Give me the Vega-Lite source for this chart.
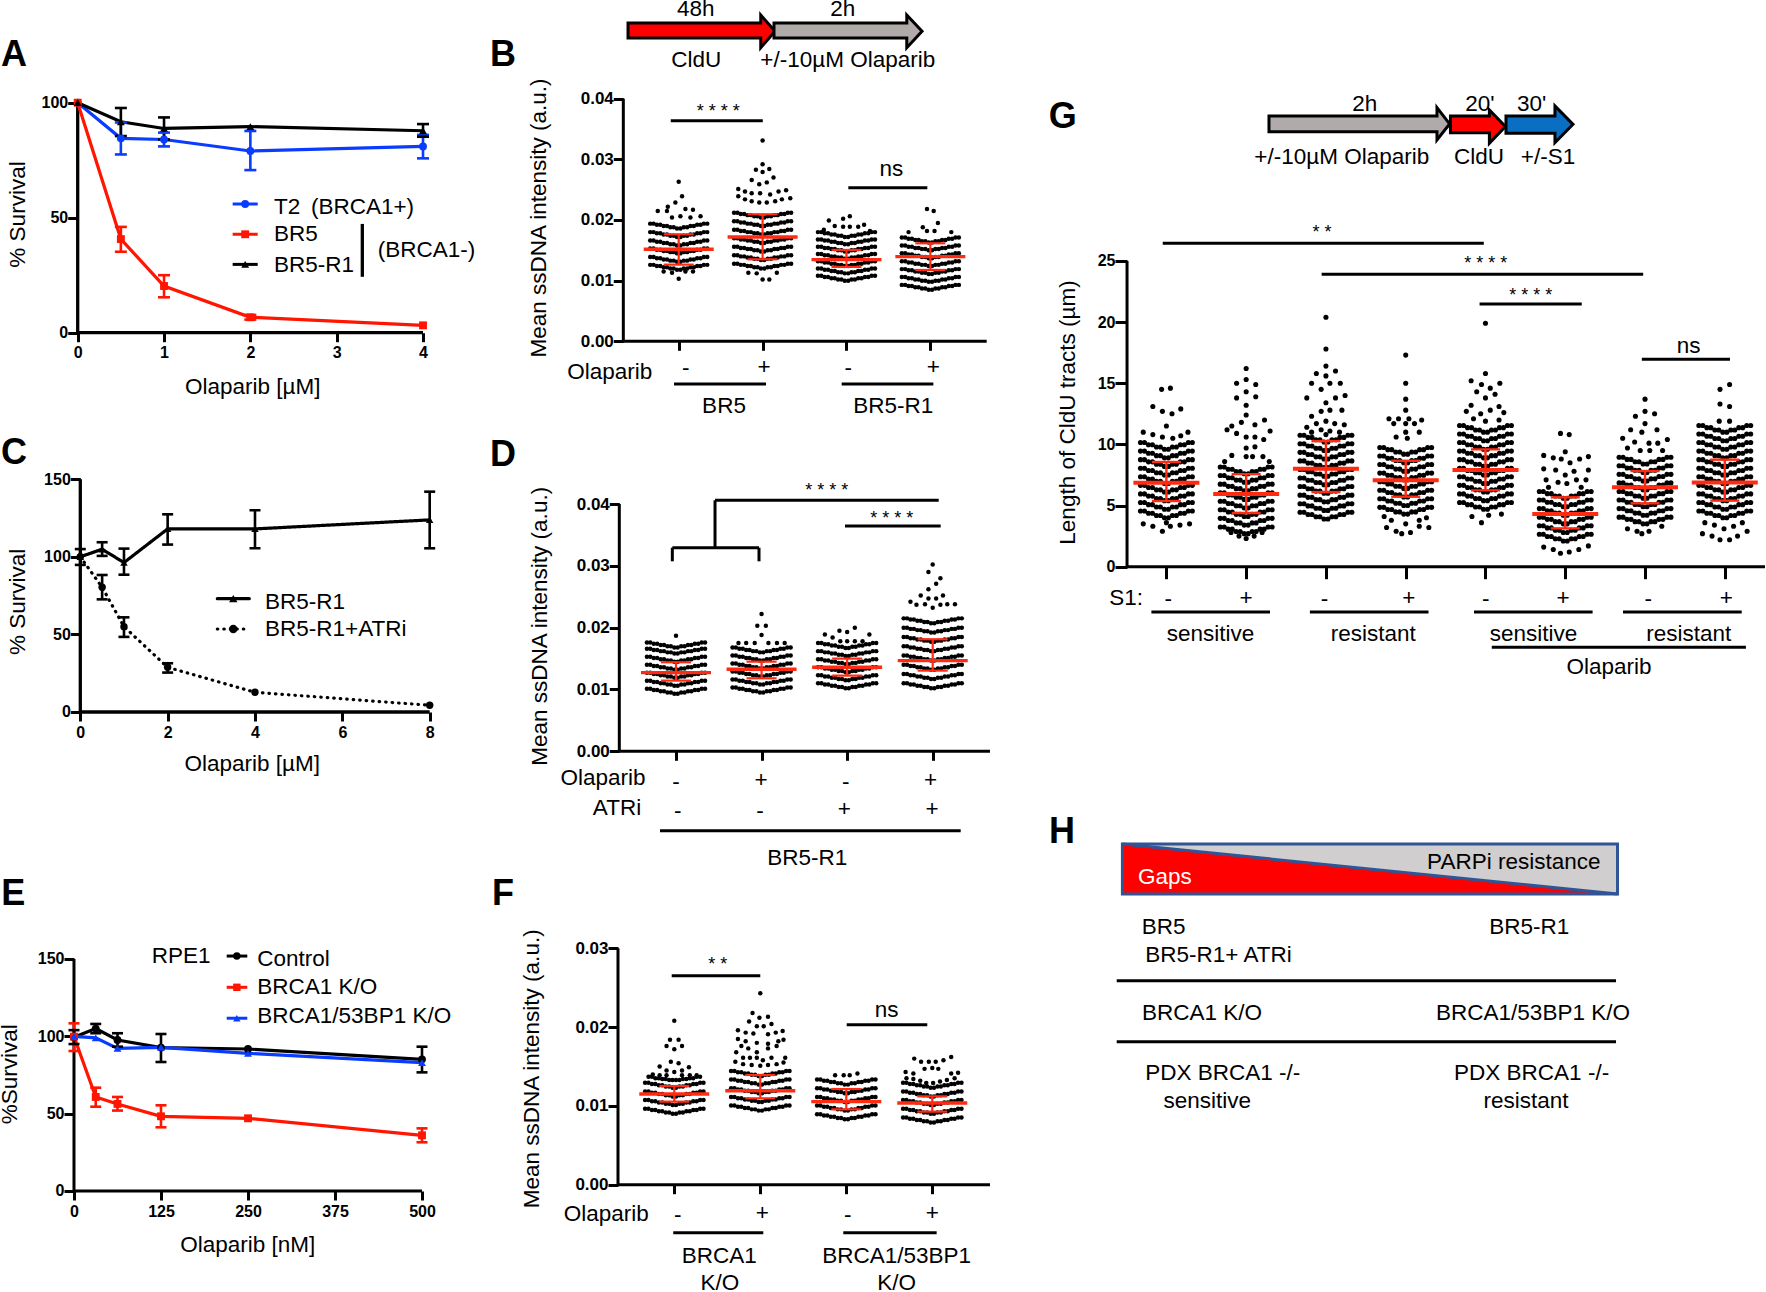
{"$schema":"https://vega.github.io/schema/vega-lite/v6.json","padding":{"left":-2,"top":-2,"right":0,"bottom":0},"background":"white","spacing":490,"bounds":"flush","config":{"view":{"stroke":null},"axis":{"grid":false,"domain":false,"tickColor":"#000","tickWidth":3,"tickSize":9,"labelFont":"Liberation Sans","labelFontWeight":"bold","labelColor":"#000","labelFontSize":16,"labelPadding":2,"titleFont":"Liberation Sans","titleFontWeight":"normal","titleFontSize":22.5,"titleColor":"#000","titleBaseline":"middle","labelOverlap":false},"text":{"font":"Liberation Sans","fontSize":22.5,"color":"#000"},"rule":{"color":"#000","strokeWidth":3},"tick":{"opacity":1}},
"datasets":{
"sA":[{"s":"T2","x":0,"y":100},{"s":"T2","x":0.5,"y":84.5},{"s":"T2","x":1,"y":84},{"s":"T2","x":2,"y":79},{"s":"T2","x":4,"y":81},{"s":"BR5","x":0,"y":100},{"s":"BR5","x":0.5,"y":40.7},{"s":"BR5","x":1,"y":20.3},{"s":"BR5","x":2,"y":6.7},{"s":"BR5","x":4,"y":3.2},{"s":"R1","x":0,"y":100},{"s":"R1","x":0.5,"y":91.7},{"s":"R1","x":1,"y":88.8},{"s":"R1","x":2,"y":89.6},{"s":"R1","x":4,"y":87.8}],
"eA":[{"s":"T2","x":0.5,"y":77.5,"y2":91.4},{"s":"T2","x":1,"y":81,"y2":87},{"s":"T2","x":2,"y":70.7,"y2":87.7},{"s":"T2","x":4,"y":75.8,"y2":86},{"s":"BR5","x":0.5,"y":35.2,"y2":46},{"s":"BR5","x":1,"y":15.4,"y2":25},{"s":"BR5","x":2,"y":5.7,"y2":7.7},{"s":"R1","x":0.5,"y":85.5,"y2":97.7},{"s":"R1","x":1,"y":84,"y2":93.6},{"s":"R1","x":4,"y":85.2,"y2":90.7}],
"lA":[{"s":"T2","x":1.795,"x2":2.085,"y":55.96,"m":1.94},{"s":"BR5","x":1.795,"x2":2.085,"y":42.8,"m":1.94},{"s":"R1","x":1.795,"x2":2.085,"y":29.7,"m":1.94}],
"tA":[{"x":2.274,"y":54.7,"t":"T2"},{"x":2.702,"y":54.7,"t":"(BRCA1+)"},{"x":2.274,"y":42.8,"t":"BR5"},{"x":2.274,"y":29.4,"t":"BR5-R1"},{"x":3.475,"y":36,"t":"(BRCA1-)"}],
"rA":[{"x":0,"y":0,"x2":4,"y2":0},{"x":0,"y":0,"x2":0,"y2":100},{"x":3.297,"y":47.3,"x2":3.297,"y2":24.3}],
"sC":[{"s":"R1","x":0,"y":100},{"s":"R1","x":0.5,"y":104.9},{"s":"R1","x":1,"y":96.3},{"s":"R1","x":2,"y":118},{"s":"R1","x":4,"y":118},{"s":"R1","x":8,"y":123.8},{"s":"ATRi","x":0,"y":100},{"s":"ATRi","x":0.5,"y":80.4},{"s":"ATRi","x":1,"y":55},{"s":"ATRi","x":2,"y":28.8},{"s":"ATRi","x":4,"y":12.7},{"s":"ATRi","x":8,"y":4.3}],
"eC":[{"s":"R1","x":0,"y":94.8,"y2":105},{"s":"R1","x":0.5,"y":100.6,"y2":109.4},{"s":"R1","x":1,"y":88.5,"y2":105.3},{"s":"R1","x":2,"y":107.9,"y2":127.4},{"s":"R1","x":4,"y":105.5,"y2":130},{"s":"R1","x":8,"y":105.5,"y2":142},{"s":"ATRi","x":0.5,"y":72.6,"y2":88.3},{"s":"ATRi","x":1,"y":48.4,"y2":61},{"s":"ATRi","x":2,"y":25.4,"y2":31.4}],
"lC":[{"s":"R1","x":3.137,"x2":3.87,"y":73,"m":3.503},{"s":"ATRi","x":3.137,"x2":3.87,"y":53.5,"m":3.503}],
"tC":[{"x":4.229,"y":71.1,"t":"BR5-R1"},{"x":4.229,"y":53.5,"t":"BR5-R1+ATRi"}],
"rC":[{"x":0,"y":0,"x2":8,"y2":0},{"x":0,"y":0,"x2":0,"y2":150}],
"sE":[{"s":"Control","x":0,"y":99.4},{"s":"Control","x":31.25,"y":105},{"s":"Control","x":62.5,"y":97.6},{"s":"Control","x":125,"y":92.7},{"s":"Control","x":250,"y":91.8},{"s":"Control","x":500,"y":85.1},{"s":"BRCA1","x":0,"y":99.8},{"s":"BRCA1","x":31.25,"y":60.8},{"s":"BRCA1","x":62.5,"y":56.3},{"s":"BRCA1","x":125,"y":48.3},{"s":"BRCA1","x":250,"y":47},{"s":"BRCA1","x":500,"y":36},{"s":"DKO","x":0,"y":100},{"s":"DKO","x":31.25,"y":99},{"s":"DKO","x":62.5,"y":92.2},{"s":"DKO","x":125,"y":92.9},{"s":"DKO","x":250,"y":89},{"s":"DKO","x":500,"y":83}],
"eE":[{"s":"BRCA1","x":0,"y":90.5,"y2":108.4},{"s":"BRCA1","x":31.25,"y":54.5,"y2":66.8},{"s":"BRCA1","x":62.5,"y":52,"y2":60.8},{"s":"BRCA1","x":125,"y":41.2,"y2":55.4},{"s":"BRCA1","x":500,"y":31.5,"y2":40.5},{"s":"Control","x":0,"y":95,"y2":104},{"s":"Control","x":31.25,"y":102,"y2":108},{"s":"Control","x":62.5,"y":93.3,"y2":102},{"s":"Control","x":125,"y":83.4,"y2":101.5},{"s":"Control","x":500,"y":76.7,"y2":93.3}],
"lE":[{"s":"Control","x":219.4,"x2":249,"y":151.9,"m":234},{"s":"BRCA1","x":219.4,"x2":249,"y":131.7,"m":234},{"s":"DKO","x":219.4,"x2":249,"y":111.7,"m":234}],
"tE":[{"x":111.6,"y":151.9,"t":"RPE1"},{"x":263.4,"y":149.8,"t":"Control"},{"x":263.4,"y":132.1,"t":"BRCA1 K/O"},{"x":263.4,"y":113.1,"t":"BRCA1/53BP1 K/O"}],
"rE":[{"x":0,"y":0,"x2":500,"y2":0},{"x":0,"y":0,"x2":0,"y2":150}],
"rB":[{"x":0.3395,"y":0,"x2":4.672,"y2":0},{"x":0.3395,"y":0,"x2":0.3395,"y2":0.04},{"x":0.905,"y":0.03637,"x2":2.002,"y2":0.03637},{"x":3.022,"y":0.02533,"x2":3.964,"y2":0.02533},{"x":0.944,"y":-0.00704,"x2":2.041,"y2":-0.00704},{"x":2.943,"y":-0.00704,"x2":4.036,"y2":-0.00704}],
"eB":[{"x":1,"m":0.01517,"y":0.01264,"y2":0.01764},{"x":2,"m":0.0172,"y":0.01352,"y2":0.02094},{"x":3,"m":0.01347,"y":0.01226,"y2":0.01506},{"x":4,"m":0.01396,"y":0.01176,"y2":0.01616}],
"tB":[{"x":3.535,"y":0.02841,"t":"ns"},{"x":0.177,"y":-0.00501,"t":"Olaparib"},{"x":1.083,"y":-0.0044,"t":"-"},{"x":2.017,"y":-0.00419,"t":"+"},{"x":3.022,"y":-0.0044,"t":"-"},{"x":4.036,"y":-0.00419,"t":"+"},{"x":1.54,"y":-0.01067,"t":"BR5"},{"x":3.559,"y":-0.01067,"t":"BR5-R1"},{"x":1.203,"y":0.05474,"t":"48h"},{"x":2.955,"y":0.05474,"t":"2h"},{"x":1.21,"y":0.04638,"t":"CldU"},{"x":3.015,"y":0.04638,"t":"+/-10µM Olaparib"}],
"aB":[{"a":"red","x":0.3955,"y":0.05248,"y2":0.05001},{"a":"red","x":1.978,"y":0.05248,"y2":0.05001},{"a":"red","x":1.978,"y":0.0538,"y2":0.04841},{"a":"red","x":2.148,"y":0.05111,"y2":0.05111},{"a":"gray","x":2.136,"y":0.05248,"y2":0.05001},{"a":"gray","x":3.719,"y":0.05248,"y2":0.05001},{"a":"gray","x":3.719,"y":0.0538,"y2":0.04841},{"a":"gray","x":3.901,"y":0.05111,"y2":0.05111}],
"rD":[{"x":0.3374,"y":0,"x2":4.669,"y2":0},{"x":0.3374,"y":0,"x2":0.3374,"y2":0.04},{"x":1.456,"y":0.0406,"x2":4.07,"y2":0.0406},{"x":1.456,"y":0.0406,"x2":1.456,"y2":0.03293},{"x":0.957,"y":0.03293,"x2":1.97,"y2":0.03293},{"x":0.957,"y":0.03293,"x2":0.957,"y2":0.03073},{"x":1.97,"y":0.03293,"x2":1.97,"y2":0.03073},{"x":2.975,"y":0.03644,"x2":4.093,"y2":0.03644},{"x":0.813,"y":-0.01284,"x2":4.327,"y2":-0.01284}],
"eD":[{"x":1,"m":0.01272,"y":0.01143,"y2":0.0144},{"x":2,"m":0.01326,"y":0.01181,"y2":0.0145},{"x":3,"m":0.01359,"y":0.01224,"y2":0.01499},{"x":4,"m":0.01467,"y":0.01305,"y2":0.01812}],
"tD":[{"x":0.147,"y":-0.00427,"t":"Olaparib"},{"x":0.311,"y":-0.00922,"t":"ATRi"},{"x":1,"y":-0.00492,"t":"-"},{"x":1.993,"y":-0.00464,"t":"+"},{"x":2.983,"y":-0.00492,"t":"-"},{"x":3.976,"y":-0.00464,"t":"+"},{"x":1.02,"y":-0.00966,"t":"-"},{"x":1.982,"y":-0.00966,"t":"-"},{"x":2.967,"y":-0.00938,"t":"+"},{"x":3.992,"y":-0.00938,"t":"+"},{"x":2.534,"y":-0.01721,"t":"BR5-R1"}],
"rF":[{"x":0.3453,"y":0,"x2":4.671,"y2":0},{"x":0.3453,"y":0,"x2":0.3453,"y2":0.03},{"x":0.97,"y":0.02652,"x2":2,"y2":0.02652},{"x":3.005,"y":0.0203,"x2":3.942,"y2":0.0203},{"x":0.988,"y":-0.00609,"x2":2.035,"y2":-0.00609},{"x":2.965,"y":-0.00609,"x2":4.051,"y2":-0.00609}],
"eF":[{"x":1,"m":0.01151,"y":0.01054,"y2":0.01252},{"x":2,"m":0.01193,"y":0.01096,"y2":0.01392},{"x":3,"m":0.01054,"y":0.00956,"y2":0.01214},{"x":4,"m":0.01037,"y":0.00927,"y2":0.01121}],
"tF":[{"x":3.47,"y":0.02217,"t":"ns"},{"x":0.209,"y":-0.00376,"t":"Olaparib"},{"x":1.04,"y":-0.00385,"t":"-"},{"x":2.023,"y":-0.00363,"t":"+"},{"x":3.016,"y":-0.00385,"t":"-"},{"x":4,"y":-0.00363,"t":"+"},{"x":1.523,"y":-0.00905,"t":"BRCA1"},{"x":1.531,"y":-0.01244,"t":"K/O"},{"x":3.586,"y":-0.00905,"t":"BRCA1/53BP1"},{"x":3.586,"y":-0.01244,"t":"K/O"}],
"rG":[{"x":0.5065,"y":0,"x2":8.504,"y2":0},{"x":0.5065,"y":0,"x2":0.5065,"y2":25},{"x":0.954,"y":26.45,"x2":4.979,"y2":26.45},{"x":2.946,"y":23.91,"x2":6.977,"y2":23.91},{"x":4.926,"y":21.48,"x2":6.207,"y2":21.48},{"x":6.96,"y":16.96,"x2":8.065,"y2":16.96},{"x":0.812,"y":-3.7,"x2":2.299,"y2":-3.7},{"x":2.799,"y":-3.7,"x2":4.286,"y2":-3.7},{"x":4.856,"y":-3.7,"x2":6.343,"y2":-3.7},{"x":6.724,"y":-3.7,"x2":8.212,"y2":-3.7},{"x":5.079,"y":-6.59,"x2":8.265,"y2":-6.59}],
"eG":[{"x":1,"m":6.87,"y":5.37,"y2":8.56},{"x":2,"m":5.94,"y":4.39,"y2":7.57},{"x":3,"m":8.01,"y":6.1,"y2":10.27},{"x":4,"m":7.06,"y":5.72,"y2":8.66},{"x":5,"m":7.9,"y":6.24,"y2":9.59},{"x":6,"m":4.31,"y":3.13,"y2":5.67},{"x":7,"m":6.49,"y":5.18,"y2":7.82},{"x":8,"m":6.89,"y":5.4,"y2":8.75}],
"tG":[{"x":3.486,"y":37.84,"t":"2h"},{"x":4.931,"y":37.84,"t":"20'"},{"x":5.578,"y":37.84,"t":"30'"},{"x":3.199,"y":33.53,"t":"+/-10µM Olaparib"},{"x":4.919,"y":33.53,"t":"CldU"},{"x":5.784,"y":33.53,"t":"+/-S1"},{"x":7.548,"y":18.07,"t":"ns"},{"x":0.494,"y":-2.535,"t":"S1:"},{"x":1.024,"y":-2.64,"t":"-"},{"x":1.998,"y":-2.535,"t":"+"},{"x":2.981,"y":-2.64,"t":"-"},{"x":4.039,"y":-2.535,"t":"+"},{"x":5.003,"y":-2.64,"t":"-"},{"x":5.972,"y":-2.535,"t":"+"},{"x":7.042,"y":-2.64,"t":"-"},{"x":8.018,"y":-2.535,"t":"+"},{"x":1.553,"y":-5.5,"t":"sensitive"},{"x":3.592,"y":-5.5,"t":"resistant"},{"x":5.602,"y":-5.5,"t":"sensitive"},{"x":7.548,"y":-5.5,"t":"resistant"},{"x":6.548,"y":-8.18,"t":"Olaparib"}],
"aG":[{"a":"gray","x":2.286,"y":36.86,"y2":35.57},{"a":"gray","x":4.392,"y":36.86,"y2":35.57},{"a":"gray","x":4.392,"y":37.54,"y2":34.89},{"a":"gray","x":4.55,"y":36.21,"y2":36.21},{"a":"red","x":4.561,"y":36.86,"y2":35.49},{"a":"red","x":5.049,"y":36.86,"y2":35.49},{"a":"red","x":5.049,"y":37.35,"y2":34.63},{"a":"red","x":5.25,"y":35.99,"y2":35.99},{"a":"blue","x":5.257,"y":36.86,"y2":35.44},{"a":"blue","x":5.871,"y":36.86,"y2":35.44},{"a":"blue","x":5.871,"y":37.68,"y2":34.67},{"a":"blue","x":6.097,"y":36.17,"y2":36.17}],
"tH":[{"x":0.8219,"y":-0.666,"t":"BR5-R1"},{"x":0.0832,"y":-0.666,"t":"BR5"},{"x":0.1941,"y":-1.22,"t":"BR5-R1+ ATRi"},{"x":0.1608,"y":-2.386,"t":"BRCA1 K/O"},{"x":0.8293,"y":-2.386,"t":"BRCA1/53BP1 K/O"},{"x":0.2026,"y":-3.586,"t":"PDX BRCA1 -/-"},{"x":0.1713,"y":-4.14,"t":"sensitive"},{"x":0.8265,"y":-3.586,"t":"PDX BRCA1 -/-"},{"x":0.8152,"y":-4.14,"t":"resistant"},{"x":0.7905,"y":0.634,"t":"PARPi resistance"}],
"pB":[{"x":1,"y":0.0103},{"x":0.82,"y":0.0115},{"x":0.92,"y":0.0113},{"x":1.08,"y":0.0115},{"x":1.17,"y":0.0115},{"x":1,"y":0.0263},{"x":1.04,"y":0.0239},{"x":0.87,"y":0.0222},{"x":0.96,"y":0.0229},{"x":0.75,"y":0.0215},{"x":1.08,"y":0.0218},{"x":1.17,"y":0.0217},{"x":0.86,"y":0.0215},{"x":1.02,"y":0.0206},{"x":0.92,"y":0.0204},{"x":1.14,"y":0.0204},{"x":1.26,"y":0.0206},{"x":2,"y":0.0331},{"x":2,"y":0.0292},{"x":1.92,"y":0.0283},{"x":2.08,"y":0.0284},{"x":2,"y":0.0279},{"x":1.87,"y":0.0266},{"x":2.13,"y":0.027},{"x":1.96,"y":0.0259},{"x":2.05,"y":0.0262},{"x":1.71,"y":0.0251},{"x":1.79,"y":0.0247},{"x":1.87,"y":0.0244},{"x":1.97,"y":0.0244},{"x":2.09,"y":0.0242},{"x":2.19,"y":0.0247},{"x":2.28,"y":0.0249},{"x":1.71,"y":0.0239},{"x":1.79,"y":0.0234},{"x":1.87,"y":0.0231},{"x":1.96,"y":0.0229},{"x":2.05,"y":0.0229},{"x":2.15,"y":0.0231},{"x":2.23,"y":0.0234},{"x":2.33,"y":0.0236},{"x":2,"y":0.0102},{"x":2.08,"y":0.0102},{"x":1.83,"y":0.0113},{"x":1.93,"y":0.0112},{"x":2.17,"y":0.0113},{"x":3.04,"y":0.0206},{"x":2.96,"y":0.0202},{"x":2.79,"y":0.0199},{"x":2.86,"y":0.019},{"x":2.96,"y":0.0189},{"x":3.04,"y":0.0189},{"x":3.14,"y":0.0189},{"x":3.21,"y":0.0192},{"x":2.73,"y":0.0184},{"x":3.28,"y":0.0182},{"x":3.96,"y":0.0218},{"x":4.04,"y":0.0215},{"x":4.09,"y":0.0195},{"x":3.91,"y":0.0188},{"x":3.96,"y":0.0182},{"x":4.05,"y":0.0182},{"x":3.74,"y":0.018},{"x":4.25,"y":0.018}],
"swB":[
{"x":0.68,"y":0.0126},{"x":0.76,"y":0.0124},{"x":0.84,"y":0.0122},{"x":0.92,"y":0.012},{"x":1,"y":0.0118},{"x":1.08,"y":0.012},{"x":1.16,"y":0.0122},{"x":1.24,"y":0.0124},{"x":1.32,"y":0.0126},
{"x":0.68,"y":0.0139},{"x":0.76,"y":0.0137},{"x":0.84,"y":0.0135},{"x":0.92,"y":0.0133},{"x":1,"y":0.0131},{"x":1.08,"y":0.0133},{"x":1.16,"y":0.0135},{"x":1.24,"y":0.0137},{"x":1.32,"y":0.0139},
{"x":0.68,"y":0.0153},{"x":0.76,"y":0.0151},{"x":0.84,"y":0.0149},{"x":0.92,"y":0.0147},{"x":1,"y":0.0145},{"x":1.08,"y":0.0147},{"x":1.16,"y":0.0149},{"x":1.24,"y":0.0151},{"x":1.32,"y":0.0153},
{"x":0.68,"y":0.0166},{"x":0.76,"y":0.0164},{"x":0.84,"y":0.0162},{"x":0.92,"y":0.016},{"x":1,"y":0.0158},{"x":1.08,"y":0.016},{"x":1.16,"y":0.0162},{"x":1.24,"y":0.0164},{"x":1.32,"y":0.0166},
{"x":0.68,"y":0.018},{"x":0.76,"y":0.0178},{"x":0.84,"y":0.0176},{"x":0.92,"y":0.0174},{"x":1,"y":0.0172},{"x":1.08,"y":0.0174},{"x":1.16,"y":0.0176},{"x":1.24,"y":0.0178},{"x":1.32,"y":0.018},
{"x":0.68,"y":0.0194},{"x":0.76,"y":0.0192},{"x":0.84,"y":0.019},{"x":0.92,"y":0.0188},{"x":1,"y":0.0186},{"x":1.08,"y":0.0188},{"x":1.16,"y":0.019},{"x":1.24,"y":0.0192},{"x":1.32,"y":0.0194},
{"x":1.68,"y":0.0128},{"x":1.76,"y":0.0126},{"x":1.84,"y":0.0124},{"x":1.92,"y":0.0122},{"x":2,"y":0.012},{"x":2.08,"y":0.0122},{"x":2.16,"y":0.0124},{"x":2.24,"y":0.0126},{"x":2.32,"y":0.0128},
{"x":1.68,"y":0.0142},{"x":1.76,"y":0.014},{"x":1.84,"y":0.0138},{"x":1.92,"y":0.0136},{"x":2,"y":0.0134},{"x":2.08,"y":0.0136},{"x":2.16,"y":0.0138},{"x":2.24,"y":0.014},{"x":2.32,"y":0.0142},
{"x":1.68,"y":0.0156},{"x":1.76,"y":0.0154},{"x":1.84,"y":0.0152},{"x":1.92,"y":0.015},{"x":2,"y":0.0148},{"x":2.08,"y":0.015},{"x":2.16,"y":0.0152},{"x":2.24,"y":0.0154},{"x":2.32,"y":0.0156},
{"x":1.68,"y":0.017},{"x":1.76,"y":0.0168},{"x":1.84,"y":0.0166},{"x":1.92,"y":0.0164},{"x":2,"y":0.0162},{"x":2.08,"y":0.0164},{"x":2.16,"y":0.0166},{"x":2.24,"y":0.0168},{"x":2.32,"y":0.017},
{"x":1.68,"y":0.0184},{"x":1.76,"y":0.0182},{"x":1.84,"y":0.018},{"x":1.92,"y":0.0178},{"x":2,"y":0.0176},{"x":2.08,"y":0.0178},{"x":2.16,"y":0.018},{"x":2.24,"y":0.0182},{"x":2.32,"y":0.0184},
{"x":1.68,"y":0.0198},{"x":1.76,"y":0.0196},{"x":1.84,"y":0.0194},{"x":1.92,"y":0.0192},{"x":2,"y":0.019},{"x":2.08,"y":0.0192},{"x":2.16,"y":0.0194},{"x":2.24,"y":0.0196},{"x":2.32,"y":0.0198},
{"x":1.68,"y":0.0212},{"x":1.76,"y":0.021},{"x":1.84,"y":0.0208},{"x":1.92,"y":0.0206},{"x":2,"y":0.0204},{"x":2.08,"y":0.0206},{"x":2.16,"y":0.0208},{"x":2.24,"y":0.021},{"x":2.32,"y":0.0212},
{"x":2.68,"y":0.0108},{"x":2.76,"y":0.0106},{"x":2.84,"y":0.0104},{"x":2.92,"y":0.0102},{"x":3,"y":0.01},{"x":3.08,"y":0.0102},{"x":3.16,"y":0.0104},{"x":3.24,"y":0.0106},{"x":3.32,"y":0.0108},
{"x":2.68,"y":0.012},{"x":2.76,"y":0.0118},{"x":2.84,"y":0.0116},{"x":2.92,"y":0.0114},{"x":3,"y":0.0112},{"x":3.08,"y":0.0114},{"x":3.16,"y":0.0116},{"x":3.24,"y":0.0118},{"x":3.32,"y":0.012},
{"x":2.68,"y":0.0132},{"x":2.76,"y":0.013},{"x":2.84,"y":0.0128},{"x":2.92,"y":0.0126},{"x":3,"y":0.0124},{"x":3.08,"y":0.0126},{"x":3.16,"y":0.0128},{"x":3.24,"y":0.013},{"x":3.32,"y":0.0132},
{"x":2.68,"y":0.0144},{"x":2.76,"y":0.0142},{"x":2.84,"y":0.014},{"x":2.92,"y":0.0138},{"x":3,"y":0.0136},{"x":3.08,"y":0.0138},{"x":3.16,"y":0.014},{"x":3.24,"y":0.0142},{"x":3.32,"y":0.0144},
{"x":2.68,"y":0.0156},{"x":2.76,"y":0.0154},{"x":2.84,"y":0.0152},{"x":2.92,"y":0.015},{"x":3,"y":0.0148},{"x":3.08,"y":0.015},{"x":3.16,"y":0.0152},{"x":3.24,"y":0.0154},{"x":3.32,"y":0.0156},
{"x":2.68,"y":0.0168},{"x":2.76,"y":0.0166},{"x":2.84,"y":0.0164},{"x":2.92,"y":0.0162},{"x":3,"y":0.016},{"x":3.08,"y":0.0162},{"x":3.16,"y":0.0164},{"x":3.24,"y":0.0166},{"x":3.32,"y":0.0168},
{"x":2.68,"y":0.018},{"x":2.76,"y":0.0178},{"x":2.84,"y":0.0176},{"x":2.92,"y":0.0174},{"x":3,"y":0.0172},{"x":3.08,"y":0.0174},{"x":3.16,"y":0.0176},{"x":3.24,"y":0.0178},{"x":3.32,"y":0.018},
{"x":3.68,"y":0.0093},{"x":3.76,"y":0.0091},{"x":3.84,"y":0.0089},{"x":3.92,"y":0.0087},{"x":4,"y":0.0085},{"x":4.08,"y":0.0087},{"x":4.16,"y":0.0089},{"x":4.24,"y":0.0091},{"x":4.32,"y":0.0093},
{"x":3.68,"y":0.0106},{"x":3.76,"y":0.0104},{"x":3.84,"y":0.0102},{"x":3.92,"y":0.01},{"x":4,"y":0.0098},{"x":4.08,"y":0.01},{"x":4.16,"y":0.0102},{"x":4.24,"y":0.0104},{"x":4.32,"y":0.0106},
{"x":3.68,"y":0.0119},{"x":3.76,"y":0.0117},{"x":3.84,"y":0.0115},{"x":3.92,"y":0.0113},{"x":4,"y":0.0111},{"x":4.08,"y":0.0113},{"x":4.16,"y":0.0115},{"x":4.24,"y":0.0117},{"x":4.32,"y":0.0119},
{"x":3.68,"y":0.0132},{"x":3.76,"y":0.013},{"x":3.84,"y":0.0128},{"x":3.92,"y":0.0126},{"x":4,"y":0.0124},{"x":4.08,"y":0.0126},{"x":4.16,"y":0.0128},{"x":4.24,"y":0.013},{"x":4.32,"y":0.0132},
{"x":3.68,"y":0.0145},{"x":3.76,"y":0.0143},{"x":3.84,"y":0.0141},{"x":3.92,"y":0.0139},{"x":4,"y":0.0137},{"x":4.08,"y":0.0139},{"x":4.16,"y":0.0141},{"x":4.24,"y":0.0143},{"x":4.32,"y":0.0145},
{"x":3.68,"y":0.0158},{"x":3.76,"y":0.0156},{"x":3.84,"y":0.0154},{"x":3.92,"y":0.0152},{"x":4,"y":0.015},{"x":4.08,"y":0.0152},{"x":4.16,"y":0.0154},{"x":4.24,"y":0.0156},{"x":4.32,"y":0.0158},
{"x":3.68,"y":0.0171},{"x":3.76,"y":0.0169},{"x":3.84,"y":0.0167},{"x":3.92,"y":0.0165},{"x":4,"y":0.0163},{"x":4.08,"y":0.0165},{"x":4.16,"y":0.0167},{"x":4.24,"y":0.0169},{"x":4.32,"y":0.0171}],
"pD":[{"x":1,"y":0.0187},{"x":2,"y":0.0222},{"x":1.95,"y":0.0203},{"x":2.05,"y":0.0203},{"x":2,"y":0.0188},{"x":1.73,"y":0.0175},{"x":1.82,"y":0.0175},{"x":1.92,"y":0.0175},{"x":2.08,"y":0.0175},{"x":2.18,"y":0.0175},{"x":2.27,"y":0.0175},{"x":3.09,"y":0.02},{"x":2.91,"y":0.0195},{"x":3,"y":0.0193},{"x":2.74,"y":0.0189},{"x":3.26,"y":0.0189},{"x":2.83,"y":0.0184},{"x":2.92,"y":0.0178},{"x":3,"y":0.0178},{"x":3.09,"y":0.0178},{"x":3.18,"y":0.0178},{"x":4,"y":0.0302},{"x":3.95,"y":0.029},{"x":4.09,"y":0.028},{"x":4.04,"y":0.0271},{"x":3.95,"y":0.0262},{"x":3.86,"y":0.0252},{"x":3.95,"y":0.0247},{"x":4.04,"y":0.0247},{"x":4.12,"y":0.0252},{"x":3.74,"y":0.0242},{"x":3.91,"y":0.0238},{"x":3.81,"y":0.0237},{"x":4,"y":0.0232},{"x":4.09,"y":0.0237},{"x":4.17,"y":0.0238},{"x":4.26,"y":0.0238}],
"swD":[
{"x":0.68,"y":0.0101},{"x":0.76,"y":0.0099},{"x":0.84,"y":0.0097},{"x":0.92,"y":0.0095},{"x":1,"y":0.0093},{"x":1.08,"y":0.0095},{"x":1.16,"y":0.0097},{"x":1.24,"y":0.0099},{"x":1.32,"y":0.0101},
{"x":0.68,"y":0.0114},{"x":0.76,"y":0.0112},{"x":0.84,"y":0.011},{"x":0.92,"y":0.0108},{"x":1,"y":0.0106},{"x":1.08,"y":0.0108},{"x":1.16,"y":0.011},{"x":1.24,"y":0.0112},{"x":1.32,"y":0.0114},
{"x":0.68,"y":0.0127},{"x":0.76,"y":0.0125},{"x":0.84,"y":0.0123},{"x":0.92,"y":0.0121},{"x":1,"y":0.0119},{"x":1.08,"y":0.0121},{"x":1.16,"y":0.0123},{"x":1.24,"y":0.0125},{"x":1.32,"y":0.0127},
{"x":0.68,"y":0.014},{"x":0.76,"y":0.0138},{"x":0.84,"y":0.0136},{"x":0.92,"y":0.0134},{"x":1,"y":0.0132},{"x":1.08,"y":0.0134},{"x":1.16,"y":0.0136},{"x":1.24,"y":0.0138},{"x":1.32,"y":0.014},
{"x":0.68,"y":0.0153},{"x":0.76,"y":0.0151},{"x":0.84,"y":0.0149},{"x":0.92,"y":0.0147},{"x":1,"y":0.0145},{"x":1.08,"y":0.0147},{"x":1.16,"y":0.0149},{"x":1.24,"y":0.0151},{"x":1.32,"y":0.0153},
{"x":0.68,"y":0.0166},{"x":0.76,"y":0.0164},{"x":0.84,"y":0.0162},{"x":0.92,"y":0.016},{"x":1,"y":0.0158},{"x":1.08,"y":0.016},{"x":1.16,"y":0.0162},{"x":1.24,"y":0.0164},{"x":1.32,"y":0.0166},
{"x":0.68,"y":0.0176},{"x":0.76,"y":0.0174},{"x":0.84,"y":0.0172},{"x":0.92,"y":0.017},{"x":1,"y":0.0168},{"x":1.08,"y":0.017},{"x":1.16,"y":0.0172},{"x":1.24,"y":0.0174},{"x":1.32,"y":0.0176},
{"x":1.68,"y":0.0103},{"x":1.76,"y":0.0101},{"x":1.84,"y":0.0099},{"x":1.92,"y":0.0097},{"x":2,"y":0.0095},{"x":2.08,"y":0.0097},{"x":2.16,"y":0.0099},{"x":2.24,"y":0.0101},{"x":2.32,"y":0.0103},
{"x":1.68,"y":0.0116},{"x":1.76,"y":0.0114},{"x":1.84,"y":0.0112},{"x":1.92,"y":0.011},{"x":2,"y":0.0108},{"x":2.08,"y":0.011},{"x":2.16,"y":0.0112},{"x":2.24,"y":0.0114},{"x":2.32,"y":0.0116},
{"x":1.68,"y":0.0129},{"x":1.76,"y":0.0127},{"x":1.84,"y":0.0125},{"x":1.92,"y":0.0123},{"x":2,"y":0.0121},{"x":2.08,"y":0.0123},{"x":2.16,"y":0.0125},{"x":2.24,"y":0.0127},{"x":2.32,"y":0.0129},
{"x":1.68,"y":0.0142},{"x":1.76,"y":0.014},{"x":1.84,"y":0.0138},{"x":1.92,"y":0.0136},{"x":2,"y":0.0134},{"x":2.08,"y":0.0136},{"x":2.16,"y":0.0138},{"x":2.24,"y":0.014},{"x":2.32,"y":0.0142},
{"x":1.68,"y":0.0155},{"x":1.76,"y":0.0153},{"x":1.84,"y":0.0151},{"x":1.92,"y":0.0149},{"x":2,"y":0.0147},{"x":2.08,"y":0.0149},{"x":2.16,"y":0.0151},{"x":2.24,"y":0.0153},{"x":2.32,"y":0.0155},
{"x":1.68,"y":0.0168},{"x":1.76,"y":0.0166},{"x":1.84,"y":0.0164},{"x":1.92,"y":0.0162},{"x":2,"y":0.016},{"x":2.08,"y":0.0162},{"x":2.16,"y":0.0164},{"x":2.24,"y":0.0166},{"x":2.32,"y":0.0168},
{"x":2.68,"y":0.011},{"x":2.76,"y":0.0108},{"x":2.84,"y":0.0106},{"x":2.92,"y":0.0104},{"x":3,"y":0.0102},{"x":3.08,"y":0.0104},{"x":3.16,"y":0.0106},{"x":3.24,"y":0.0108},{"x":3.32,"y":0.011},
{"x":2.68,"y":0.0123},{"x":2.76,"y":0.0121},{"x":2.84,"y":0.0119},{"x":2.92,"y":0.0117},{"x":3,"y":0.0115},{"x":3.08,"y":0.0117},{"x":3.16,"y":0.0119},{"x":3.24,"y":0.0121},{"x":3.32,"y":0.0123},
{"x":2.68,"y":0.0136},{"x":2.76,"y":0.0134},{"x":2.84,"y":0.0132},{"x":2.92,"y":0.013},{"x":3,"y":0.0128},{"x":3.08,"y":0.013},{"x":3.16,"y":0.0132},{"x":3.24,"y":0.0134},{"x":3.32,"y":0.0136},
{"x":2.68,"y":0.0149},{"x":2.76,"y":0.0147},{"x":2.84,"y":0.0145},{"x":2.92,"y":0.0143},{"x":3,"y":0.0141},{"x":3.08,"y":0.0143},{"x":3.16,"y":0.0145},{"x":3.24,"y":0.0147},{"x":3.32,"y":0.0149},
{"x":2.68,"y":0.0162},{"x":2.76,"y":0.016},{"x":2.84,"y":0.0158},{"x":2.92,"y":0.0156},{"x":3,"y":0.0154},{"x":3.08,"y":0.0156},{"x":3.16,"y":0.0158},{"x":3.24,"y":0.016},{"x":3.32,"y":0.0162},
{"x":2.68,"y":0.0175},{"x":2.76,"y":0.0173},{"x":2.84,"y":0.0171},{"x":2.92,"y":0.0169},{"x":3,"y":0.0167},{"x":3.08,"y":0.0169},{"x":3.16,"y":0.0171},{"x":3.24,"y":0.0173},{"x":3.32,"y":0.0175},
{"x":3.68,"y":0.011},{"x":3.76,"y":0.0108},{"x":3.84,"y":0.0106},{"x":3.92,"y":0.0104},{"x":4,"y":0.0102},{"x":4.08,"y":0.0104},{"x":4.16,"y":0.0106},{"x":4.24,"y":0.0108},{"x":4.32,"y":0.011},
{"x":3.68,"y":0.0125},{"x":3.76,"y":0.0123},{"x":3.84,"y":0.0121},{"x":3.92,"y":0.0119},{"x":4,"y":0.0117},{"x":4.08,"y":0.0119},{"x":4.16,"y":0.0121},{"x":4.24,"y":0.0123},{"x":4.32,"y":0.0125},
{"x":3.68,"y":0.014},{"x":3.76,"y":0.0138},{"x":3.84,"y":0.0136},{"x":3.92,"y":0.0134},{"x":4,"y":0.0132},{"x":4.08,"y":0.0134},{"x":4.16,"y":0.0136},{"x":4.24,"y":0.0138},{"x":4.32,"y":0.014},
{"x":3.68,"y":0.0155},{"x":3.76,"y":0.0153},{"x":3.84,"y":0.0151},{"x":3.92,"y":0.0149},{"x":4,"y":0.0147},{"x":4.08,"y":0.0149},{"x":4.16,"y":0.0151},{"x":4.24,"y":0.0153},{"x":4.32,"y":0.0155},
{"x":3.68,"y":0.017},{"x":3.76,"y":0.0168},{"x":3.84,"y":0.0166},{"x":3.92,"y":0.0164},{"x":4,"y":0.0162},{"x":4.08,"y":0.0164},{"x":4.16,"y":0.0166},{"x":4.24,"y":0.0168},{"x":4.32,"y":0.017},
{"x":3.68,"y":0.0185},{"x":3.76,"y":0.0183},{"x":3.84,"y":0.0181},{"x":3.92,"y":0.0179},{"x":4,"y":0.0177},{"x":4.08,"y":0.0179},{"x":4.16,"y":0.0181},{"x":4.24,"y":0.0183},{"x":4.32,"y":0.0185},
{"x":3.68,"y":0.02},{"x":3.76,"y":0.0198},{"x":3.84,"y":0.0196},{"x":3.92,"y":0.0194},{"x":4,"y":0.0192},{"x":4.08,"y":0.0194},{"x":4.16,"y":0.0196},{"x":4.24,"y":0.0198},{"x":4.32,"y":0.02},
{"x":3.68,"y":0.0215},{"x":3.76,"y":0.0213},{"x":3.84,"y":0.0211},{"x":3.92,"y":0.0209},{"x":4,"y":0.0207},{"x":4.08,"y":0.0209},{"x":4.16,"y":0.0211},{"x":4.24,"y":0.0213},{"x":4.32,"y":0.0215}],
"pF":[{"x":1,"y":0.0208},{"x":0.95,"y":0.0184},{"x":1.05,"y":0.0184},{"x":0.91,"y":0.0176},{"x":1.09,"y":0.0176},{"x":1,"y":0.0172},{"x":0.96,"y":0.0156},{"x":1.05,"y":0.0154},{"x":0.83,"y":0.015},{"x":1.17,"y":0.0149},{"x":0.91,"y":0.0145},{"x":1,"y":0.0143},{"x":1.09,"y":0.0145},{"x":0.75,"y":0.014},{"x":0.83,"y":0.0139},{"x":0.91,"y":0.0139},{"x":1.09,"y":0.0139},{"x":1.18,"y":0.0139},{"x":1.26,"y":0.0139},{"x":2,"y":0.0243},{"x":1.91,"y":0.0218},{"x":1.87,"y":0.0207},{"x":1.99,"y":0.0212},{"x":2.09,"y":0.0213},{"x":2.13,"y":0.0204},{"x":1.96,"y":0.0201},{"x":2.04,"y":0.0201},{"x":1.74,"y":0.0196},{"x":1.83,"y":0.0193},{"x":1.92,"y":0.0192},{"x":2.09,"y":0.0191},{"x":2.18,"y":0.0193},{"x":2.26,"y":0.0195},{"x":1.74,"y":0.0185},{"x":1.83,"y":0.0182},{"x":1.96,"y":0.018},{"x":2.09,"y":0.0179},{"x":2.21,"y":0.0182},{"x":2.27,"y":0.0184},{"x":1.78,"y":0.0176},{"x":1.86,"y":0.0173},{"x":2.09,"y":0.0173},{"x":2.19,"y":0.0176},{"x":1.72,"y":0.0168},{"x":1.96,"y":0.0168},{"x":1.8,"y":0.0161},{"x":1.88,"y":0.0161},{"x":1.96,"y":0.0161},{"x":2.03,"y":0.0158},{"x":2.13,"y":0.0161},{"x":2.29,"y":0.0161},{"x":1.71,"y":0.0156},{"x":1.8,"y":0.0153},{"x":1.9,"y":0.0152},{"x":2,"y":0.0151},{"x":2.09,"y":0.0152},{"x":2.19,"y":0.0153},{"x":2.27,"y":0.0155},{"x":2.87,"y":0.0139},{"x":2.97,"y":0.0139},{"x":3.04,"y":0.0139},{"x":3.13,"y":0.0141},{"x":4.22,"y":0.0162},{"x":4.13,"y":0.0158},{"x":3.79,"y":0.016},{"x":3.87,"y":0.0156},{"x":3.96,"y":0.0156},{"x":4.04,"y":0.0156},{"x":4,"y":0.0148},{"x":3.91,"y":0.0147},{"x":4.07,"y":0.0147},{"x":3.69,"y":0.0143},{"x":3.78,"y":0.0141},{"x":4.22,"y":0.0141},{"x":4.3,"y":0.0142},{"x":3.7,"y":0.0135},{"x":3.78,"y":0.0134},{"x":3.86,"y":0.0132},{"x":3.93,"y":0.0129},{"x":4.01,"y":0.0129},{"x":4.09,"y":0.0131},{"x":4.17,"y":0.0133},{"x":4.26,"y":0.0135}],
"swF":[
{"x":0.68,"y":0.00964},{"x":0.76,"y":0.00948},{"x":0.84,"y":0.00932},{"x":0.92,"y":0.00916},{"x":1,"y":0.009},{"x":1.08,"y":0.00916},{"x":1.16,"y":0.00932},{"x":1.24,"y":0.00948},{"x":1.32,"y":0.00964},
{"x":0.68,"y":0.01074},{"x":0.76,"y":0.01058},{"x":0.84,"y":0.01042},{"x":0.92,"y":0.01026},{"x":1,"y":0.0101},{"x":1.08,"y":0.01026},{"x":1.16,"y":0.01042},{"x":1.24,"y":0.01058},{"x":1.32,"y":0.01074},
{"x":0.68,"y":0.01184},{"x":0.76,"y":0.01168},{"x":0.84,"y":0.01152},{"x":0.92,"y":0.01136},{"x":1,"y":0.0112},{"x":1.08,"y":0.01136},{"x":1.16,"y":0.01152},{"x":1.24,"y":0.01168},{"x":1.32,"y":0.01184},
{"x":0.68,"y":0.01294},{"x":0.76,"y":0.01278},{"x":0.84,"y":0.01262},{"x":0.92,"y":0.01246},{"x":1,"y":0.0123},{"x":1.08,"y":0.01246},{"x":1.16,"y":0.01262},{"x":1.24,"y":0.01278},{"x":1.32,"y":0.01294},
{"x":0.72,"y":0.0137},{"x":0.8,"y":0.0135},{"x":0.88,"y":0.0134},{"x":0.96,"y":0.0133},{"x":1.04,"y":0.0133},{"x":1.12,"y":0.0134},{"x":1.2,"y":0.0135},{"x":1.28,"y":0.0137},
{"x":1.68,"y":0.01004},{"x":1.76,"y":0.00988},{"x":1.84,"y":0.00972},{"x":1.92,"y":0.00956},{"x":2,"y":0.0094},{"x":2.08,"y":0.00956},{"x":2.16,"y":0.00972},{"x":2.24,"y":0.00988},{"x":2.32,"y":0.01004},
{"x":1.68,"y":0.01114},{"x":1.76,"y":0.01098},{"x":1.84,"y":0.01082},{"x":1.92,"y":0.01066},{"x":2,"y":0.0105},{"x":2.08,"y":0.01066},{"x":2.16,"y":0.01082},{"x":2.24,"y":0.01098},{"x":2.32,"y":0.01114},
{"x":1.68,"y":0.01224},{"x":1.76,"y":0.01208},{"x":1.84,"y":0.01192},{"x":1.92,"y":0.01176},{"x":2,"y":0.0116},{"x":2.08,"y":0.01176},{"x":2.16,"y":0.01192},{"x":2.24,"y":0.01208},{"x":2.32,"y":0.01224},
{"x":1.68,"y":0.01334},{"x":1.76,"y":0.01318},{"x":1.84,"y":0.01302},{"x":1.92,"y":0.01286},{"x":2,"y":0.0127},{"x":2.08,"y":0.01286},{"x":2.16,"y":0.01302},{"x":2.24,"y":0.01318},{"x":2.32,"y":0.01334},
{"x":1.68,"y":0.01444},{"x":1.76,"y":0.01428},{"x":1.84,"y":0.01412},{"x":1.92,"y":0.01396},{"x":2,"y":0.0138},{"x":2.08,"y":0.01396},{"x":2.16,"y":0.01412},{"x":2.24,"y":0.01428},{"x":2.32,"y":0.01444},
{"x":2.68,"y":0.00894},{"x":2.76,"y":0.00878},{"x":2.84,"y":0.00862},{"x":2.92,"y":0.00846},{"x":3,"y":0.0083},{"x":3.08,"y":0.00846},{"x":3.16,"y":0.00862},{"x":3.24,"y":0.00878},{"x":3.32,"y":0.00894},
{"x":2.68,"y":0.01004},{"x":2.76,"y":0.00988},{"x":2.84,"y":0.00972},{"x":2.92,"y":0.00956},{"x":3,"y":0.0094},{"x":3.08,"y":0.00956},{"x":3.16,"y":0.00972},{"x":3.24,"y":0.00988},{"x":3.32,"y":0.01004},
{"x":2.68,"y":0.01114},{"x":2.76,"y":0.01098},{"x":2.84,"y":0.01082},{"x":2.92,"y":0.01066},{"x":3,"y":0.0105},{"x":3.08,"y":0.01066},{"x":3.16,"y":0.01082},{"x":3.24,"y":0.01098},{"x":3.32,"y":0.01114},
{"x":2.68,"y":0.01224},{"x":2.76,"y":0.01208},{"x":2.84,"y":0.01192},{"x":2.92,"y":0.01176},{"x":3,"y":0.0116},{"x":3.08,"y":0.01176},{"x":3.16,"y":0.01192},{"x":3.24,"y":0.01208},{"x":3.32,"y":0.01224},
{"x":2.68,"y":0.01334},{"x":2.76,"y":0.01318},{"x":2.84,"y":0.01302},{"x":2.92,"y":0.01286},{"x":3,"y":0.0127},{"x":3.08,"y":0.01286},{"x":3.16,"y":0.01302},{"x":3.24,"y":0.01318},{"x":3.32,"y":0.01334},
{"x":3.68,"y":0.00854},{"x":3.76,"y":0.00838},{"x":3.84,"y":0.00822},{"x":3.92,"y":0.00806},{"x":4,"y":0.0079},{"x":4.08,"y":0.00806},{"x":4.16,"y":0.00822},{"x":4.24,"y":0.00838},{"x":4.32,"y":0.00854},
{"x":3.68,"y":0.00964},{"x":3.76,"y":0.00948},{"x":3.84,"y":0.00932},{"x":3.92,"y":0.00916},{"x":4,"y":0.009},{"x":4.08,"y":0.00916},{"x":4.16,"y":0.00932},{"x":4.24,"y":0.00948},{"x":4.32,"y":0.00964},
{"x":3.68,"y":0.01074},{"x":3.76,"y":0.01058},{"x":3.84,"y":0.01042},{"x":3.92,"y":0.01026},{"x":4,"y":0.0101},{"x":4.08,"y":0.01026},{"x":4.16,"y":0.01042},{"x":4.24,"y":0.01058},{"x":4.32,"y":0.01074},
{"x":3.68,"y":0.01184},{"x":3.76,"y":0.01168},{"x":3.84,"y":0.01152},{"x":3.92,"y":0.01136},{"x":4,"y":0.0112},{"x":4.08,"y":0.01136},{"x":4.16,"y":0.01152},{"x":4.24,"y":0.01168},{"x":4.32,"y":0.01184},
{"x":3.68,"y":0.01294},{"x":3.76,"y":0.01278},{"x":3.84,"y":0.01262},{"x":3.92,"y":0.01246},{"x":4,"y":0.0123},{"x":4.08,"y":0.01246},{"x":4.16,"y":0.01262},{"x":4.24,"y":0.01278},{"x":4.32,"y":0.01294}],
"pG":[{"x":0.94,"y":14.5},{"x":1.05,"y":14.6},{"x":0.83,"y":13.1},{"x":1.18,"y":12.9},{"x":0.95,"y":12.7},{"x":1.07,"y":12.5},{"x":1,"y":11.5},{"x":0.71,"y":11},{"x":1.27,"y":11},{"x":0.83,"y":10.8},{"x":0.95,"y":10.6},{"x":1.18,"y":10.7},{"x":1.08,"y":10.5},{"x":0.71,"y":3.5},{"x":0.83,"y":3.3},{"x":0.95,"y":2.9},{"x":1.05,"y":3.3},{"x":1.17,"y":3.4},{"x":1.29,"y":3.5},{"x":1,"y":3.6},{"x":2,"y":16.2},{"x":2,"y":15.3},{"x":1.88,"y":15},{"x":2.12,"y":14.9},{"x":2,"y":14.3},{"x":2.12,"y":13.9},{"x":1.88,"y":13.8},{"x":2,"y":13.2},{"x":2,"y":12.4},{"x":2.23,"y":12},{"x":1.94,"y":11.8},{"x":2.11,"y":11.6},{"x":1.82,"y":11.5},{"x":1.76,"y":11.2},{"x":2.3,"y":11.1},{"x":1.88,"y":10.9},{"x":2,"y":10.6},{"x":2.11,"y":10.6},{"x":2.22,"y":10.4},{"x":2,"y":9.7},{"x":2.11,"y":9.8},{"x":1.82,"y":9.1},{"x":2,"y":9},{"x":2.08,"y":9},{"x":2.21,"y":9},{"x":2.29,"y":8.6},{"x":1.73,"y":8.6},{"x":2,"y":2.3},{"x":1.91,"y":2.5},{"x":2.1,"y":2.5},{"x":1.81,"y":2.8},{"x":2.2,"y":2.8},{"x":3,"y":20.4},{"x":3,"y":17.8},{"x":3,"y":16.4},{"x":2.88,"y":15.8},{"x":3.12,"y":16},{"x":3,"y":15.6},{"x":2.82,"y":15},{"x":3.05,"y":15},{"x":3.18,"y":15},{"x":2.94,"y":14.5},{"x":2.76,"y":13.8},{"x":3.24,"y":14},{"x":3.12,"y":13.8},{"x":3,"y":13.4},{"x":2.82,"y":12.3},{"x":2.94,"y":12.7},{"x":3.05,"y":12.8},{"x":3.2,"y":12.8},{"x":2.76,"y":11.4},{"x":2.88,"y":11.7},{"x":3,"y":11.9},{"x":3.11,"y":11.7},{"x":3.23,"y":11.6},{"x":2.82,"y":11},{"x":2.94,"y":11.2},{"x":3.05,"y":11.1},{"x":3.17,"y":11},{"x":3,"y":10.8},{"x":4,"y":17.3},{"x":4,"y":15},{"x":4,"y":13.7},{"x":4,"y":12.8},{"x":3.79,"y":12.1},{"x":3.91,"y":12.1},{"x":4.04,"y":12.1},{"x":4.2,"y":12},{"x":3.85,"y":11.7},{"x":4,"y":11.7},{"x":4.11,"y":11.7},{"x":4,"y":11},{"x":4.17,"y":11},{"x":3.88,"y":10.6},{"x":4.02,"y":10.5},{"x":3.76,"y":3.2},{"x":4.29,"y":3.2},{"x":3.88,"y":2.9},{"x":3.95,"y":2.7},{"x":4.06,"y":2.8},{"x":4.17,"y":3.3},{"x":3.82,"y":3.8},{"x":4.17,"y":3.8},{"x":4,"y":3.5},{"x":3.73,"y":4.1},{"x":4.26,"y":4},{"x":5,"y":19.9},{"x":5,"y":15.8},{"x":4.82,"y":15.2},{"x":5.18,"y":15},{"x":4.95,"y":14.9},{"x":5.06,"y":14.6},{"x":4.89,"y":14.3},{"x":5.12,"y":14.1},{"x":5,"y":13.8},{"x":4.82,"y":13.2},{"x":5.17,"y":13.1},{"x":4.76,"y":12.7},{"x":4.94,"y":12.5},{"x":5.06,"y":12.8},{"x":5.23,"y":12.6},{"x":5,"y":11.9},{"x":4.85,"y":12.1},{"x":5.17,"y":12},{"x":4.95,"y":3.6},{"x":4.83,"y":4.1},{"x":5.04,"y":4.2},{"x":5.2,"y":4.3},{"x":5.94,"y":10.9},{"x":6.05,"y":10.8},{"x":6,"y":9.4},{"x":5.73,"y":9.1},{"x":6.29,"y":9},{"x":5.85,"y":8.9},{"x":5.95,"y":8.8},{"x":6.06,"y":8.5},{"x":6.18,"y":8.8},{"x":5.73,"y":8},{"x":5.88,"y":7.9},{"x":6.11,"y":7.8},{"x":6.29,"y":7.9},{"x":6,"y":7.5},{"x":5.76,"y":7.1},{"x":5.91,"y":6.9},{"x":6.02,"y":6.8},{"x":6.14,"y":7.1},{"x":6.26,"y":7.1},{"x":5.79,"y":6.5},{"x":6.2,"y":6.5},{"x":5.73,"y":1.6},{"x":5.85,"y":1.4},{"x":5.94,"y":1.1},{"x":6.05,"y":1.2},{"x":6.17,"y":1.4},{"x":6.29,"y":1.7},{"x":7,"y":13.7},{"x":7,"y":12.7},{"x":7.12,"y":12.5},{"x":6.88,"y":12.3},{"x":7,"y":11.7},{"x":6.82,"y":11.2},{"x":7.15,"y":11.2},{"x":6.96,"y":11},{"x":6.72,"y":10.5},{"x":7.28,"y":10.4},{"x":6.87,"y":10.2},{"x":7.05,"y":10.1},{"x":7.16,"y":10.1},{"x":6.78,"y":9.7},{"x":6.94,"y":9.5},{"x":7.06,"y":9.5},{"x":7.22,"y":9.5},{"x":6.78,"y":3.1},{"x":6.9,"y":2.9},{"x":6.96,"y":2.7},{"x":7.05,"y":2.9},{"x":7.21,"y":3.3},{"x":8.06,"y":14.9},{"x":7.94,"y":14.5},{"x":7.94,"y":13.3},{"x":8.06,"y":13.1},{"x":7.93,"y":11.9},{"x":8.06,"y":11.9},{"x":7.72,"y":2.7},{"x":7.84,"y":2.5},{"x":7.94,"y":2.2},{"x":8.06,"y":2.2},{"x":8.16,"y":2.5},{"x":8.28,"y":2.9},{"x":7.75,"y":3.6},{"x":7.87,"y":3.4},{"x":7.99,"y":3.1},{"x":8.11,"y":3.3},{"x":8.22,"y":3.6}],
"swG":[
{"x":0.7,"y":4.55},{"x":0.8,"y":4.37},{"x":0.9,"y":4.18},{"x":1,"y":4},{"x":1.1,"y":4.18},{"x":1.2,"y":4.37},{"x":1.3,"y":4.55},
{"x":0.7,"y":5.25},{"x":0.8,"y":5.07},{"x":0.9,"y":4.88},{"x":1,"y":4.7},{"x":1.1,"y":4.88},{"x":1.2,"y":5.07},{"x":1.3,"y":5.25},
{"x":0.7,"y":5.95},{"x":0.8,"y":5.77},{"x":0.9,"y":5.58},{"x":1,"y":5.4},{"x":1.1,"y":5.58},{"x":1.2,"y":5.77},{"x":1.3,"y":5.95},
{"x":0.7,"y":6.65},{"x":0.8,"y":6.47},{"x":0.9,"y":6.28},{"x":1,"y":6.1},{"x":1.1,"y":6.28},{"x":1.2,"y":6.47},{"x":1.3,"y":6.65},
{"x":0.7,"y":7.35},{"x":0.8,"y":7.17},{"x":0.9,"y":6.98},{"x":1,"y":6.8},{"x":1.1,"y":6.98},{"x":1.2,"y":7.17},{"x":1.3,"y":7.35},
{"x":0.7,"y":8.05},{"x":0.8,"y":7.87},{"x":0.9,"y":7.68},{"x":1,"y":7.5},{"x":1.1,"y":7.68},{"x":1.2,"y":7.87},{"x":1.3,"y":8.05},
{"x":0.7,"y":8.75},{"x":0.8,"y":8.57},{"x":0.9,"y":8.38},{"x":1,"y":8.2},{"x":1.1,"y":8.38},{"x":1.2,"y":8.57},{"x":1.3,"y":8.75},
{"x":0.7,"y":9.45},{"x":0.8,"y":9.27},{"x":0.9,"y":9.08},{"x":1,"y":8.9},{"x":1.1,"y":9.08},{"x":1.2,"y":9.27},{"x":1.3,"y":9.45},
{"x":0.7,"y":10.15},{"x":0.8,"y":9.97},{"x":0.9,"y":9.78},{"x":1,"y":9.6},{"x":1.1,"y":9.78},{"x":1.2,"y":9.97},{"x":1.3,"y":10.15},
{"x":1.7,"y":3.25},{"x":1.8,"y":3.07},{"x":1.9,"y":2.88},{"x":2,"y":2.7},{"x":2.1,"y":2.88},{"x":2.2,"y":3.07},{"x":2.3,"y":3.25},
{"x":1.7,"y":3.95},{"x":1.8,"y":3.77},{"x":1.9,"y":3.58},{"x":2,"y":3.4},{"x":2.1,"y":3.58},{"x":2.2,"y":3.77},{"x":2.3,"y":3.95},
{"x":1.7,"y":4.65},{"x":1.8,"y":4.47},{"x":1.9,"y":4.28},{"x":2,"y":4.1},{"x":2.1,"y":4.28},{"x":2.2,"y":4.47},{"x":2.3,"y":4.65},
{"x":1.7,"y":5.35},{"x":1.8,"y":5.17},{"x":1.9,"y":4.98},{"x":2,"y":4.8},{"x":2.1,"y":4.98},{"x":2.2,"y":5.17},{"x":2.3,"y":5.35},
{"x":1.7,"y":6.05},{"x":1.8,"y":5.87},{"x":1.9,"y":5.68},{"x":2,"y":5.5},{"x":2.1,"y":5.68},{"x":2.2,"y":5.87},{"x":2.3,"y":6.05},
{"x":1.7,"y":6.75},{"x":1.8,"y":6.57},{"x":1.9,"y":6.38},{"x":2,"y":6.2},{"x":2.1,"y":6.38},{"x":2.2,"y":6.57},{"x":2.3,"y":6.75},
{"x":1.7,"y":7.45},{"x":1.8,"y":7.27},{"x":1.9,"y":7.08},{"x":2,"y":6.9},{"x":2.1,"y":7.08},{"x":2.2,"y":7.27},{"x":2.3,"y":7.45},
{"x":1.7,"y":8.15},{"x":1.8,"y":7.97},{"x":1.9,"y":7.78},{"x":2,"y":7.6},{"x":2.1,"y":7.78},{"x":2.2,"y":7.97},{"x":2.3,"y":8.15},
{"x":2.7,"y":4.45},{"x":2.8,"y":4.27},{"x":2.9,"y":4.08},{"x":3,"y":3.9},{"x":3.1,"y":4.08},{"x":3.2,"y":4.27},{"x":3.3,"y":4.45},
{"x":2.7,"y":5.15},{"x":2.8,"y":4.97},{"x":2.9,"y":4.78},{"x":3,"y":4.6},{"x":3.1,"y":4.78},{"x":3.2,"y":4.97},{"x":3.3,"y":5.15},
{"x":2.7,"y":5.85},{"x":2.8,"y":5.67},{"x":2.9,"y":5.48},{"x":3,"y":5.3},{"x":3.1,"y":5.48},{"x":3.2,"y":5.67},{"x":3.3,"y":5.85},
{"x":2.7,"y":6.55},{"x":2.8,"y":6.37},{"x":2.9,"y":6.18},{"x":3,"y":6},{"x":3.1,"y":6.18},{"x":3.2,"y":6.37},{"x":3.3,"y":6.55},
{"x":2.7,"y":7.25},{"x":2.8,"y":7.07},{"x":2.9,"y":6.88},{"x":3,"y":6.7},{"x":3.1,"y":6.88},{"x":3.2,"y":7.07},{"x":3.3,"y":7.25},
{"x":2.7,"y":7.95},{"x":2.8,"y":7.77},{"x":2.9,"y":7.58},{"x":3,"y":7.4},{"x":3.1,"y":7.58},{"x":3.2,"y":7.77},{"x":3.3,"y":7.95},
{"x":2.7,"y":8.65},{"x":2.8,"y":8.47},{"x":2.9,"y":8.28},{"x":3,"y":8.1},{"x":3.1,"y":8.28},{"x":3.2,"y":8.47},{"x":3.3,"y":8.65},
{"x":2.7,"y":9.35},{"x":2.8,"y":9.17},{"x":2.9,"y":8.98},{"x":3,"y":8.8},{"x":3.1,"y":8.98},{"x":3.2,"y":9.17},{"x":3.3,"y":9.35},
{"x":2.7,"y":10.05},{"x":2.8,"y":9.87},{"x":2.9,"y":9.68},{"x":3,"y":9.5},{"x":3.1,"y":9.68},{"x":3.2,"y":9.87},{"x":3.3,"y":10.05},
{"x":2.7,"y":10.75},{"x":2.8,"y":10.57},{"x":2.9,"y":10.38},{"x":3,"y":10.2},{"x":3.1,"y":10.38},{"x":3.2,"y":10.57},{"x":3.3,"y":10.75},
{"x":3.7,"y":4.85},{"x":3.8,"y":4.67},{"x":3.9,"y":4.48},{"x":4,"y":4.3},{"x":4.1,"y":4.48},{"x":4.2,"y":4.67},{"x":4.3,"y":4.85},
{"x":3.7,"y":5.55},{"x":3.8,"y":5.37},{"x":3.9,"y":5.18},{"x":4,"y":5},{"x":4.1,"y":5.18},{"x":4.2,"y":5.37},{"x":4.3,"y":5.55},
{"x":3.7,"y":6.25},{"x":3.8,"y":6.07},{"x":3.9,"y":5.88},{"x":4,"y":5.7},{"x":4.1,"y":5.88},{"x":4.2,"y":6.07},{"x":4.3,"y":6.25},
{"x":3.7,"y":6.95},{"x":3.8,"y":6.77},{"x":3.9,"y":6.58},{"x":4,"y":6.4},{"x":4.1,"y":6.58},{"x":4.2,"y":6.77},{"x":4.3,"y":6.95},
{"x":3.7,"y":7.65},{"x":3.8,"y":7.47},{"x":3.9,"y":7.28},{"x":4,"y":7.1},{"x":4.1,"y":7.28},{"x":4.2,"y":7.47},{"x":4.3,"y":7.65},
{"x":3.7,"y":8.35},{"x":3.8,"y":8.17},{"x":3.9,"y":7.98},{"x":4,"y":7.8},{"x":4.1,"y":7.98},{"x":4.2,"y":8.17},{"x":4.3,"y":8.35},
{"x":3.7,"y":9.05},{"x":3.8,"y":8.87},{"x":3.9,"y":8.68},{"x":4,"y":8.5},{"x":4.1,"y":8.68},{"x":4.2,"y":8.87},{"x":4.3,"y":9.05},
{"x":3.7,"y":9.75},{"x":3.8,"y":9.57},{"x":3.9,"y":9.38},{"x":4,"y":9.2},{"x":4.1,"y":9.38},{"x":4.2,"y":9.57},{"x":4.3,"y":9.75},
{"x":4.7,"y":5.25},{"x":4.8,"y":5.07},{"x":4.9,"y":4.88},{"x":5,"y":4.7},{"x":5.1,"y":4.88},{"x":5.2,"y":5.07},{"x":5.3,"y":5.25},
{"x":4.7,"y":5.95},{"x":4.8,"y":5.77},{"x":4.9,"y":5.58},{"x":5,"y":5.4},{"x":5.1,"y":5.58},{"x":5.2,"y":5.77},{"x":5.3,"y":5.95},
{"x":4.7,"y":6.65},{"x":4.8,"y":6.47},{"x":4.9,"y":6.28},{"x":5,"y":6.1},{"x":5.1,"y":6.28},{"x":5.2,"y":6.47},{"x":5.3,"y":6.65},
{"x":4.7,"y":7.35},{"x":4.8,"y":7.17},{"x":4.9,"y":6.98},{"x":5,"y":6.8},{"x":5.1,"y":6.98},{"x":5.2,"y":7.17},{"x":5.3,"y":7.35},
{"x":4.7,"y":8.05},{"x":4.8,"y":7.87},{"x":4.9,"y":7.68},{"x":5,"y":7.5},{"x":5.1,"y":7.68},{"x":5.2,"y":7.87},{"x":5.3,"y":8.05},
{"x":4.7,"y":8.75},{"x":4.8,"y":8.57},{"x":4.9,"y":8.38},{"x":5,"y":8.2},{"x":5.1,"y":8.38},{"x":5.2,"y":8.57},{"x":5.3,"y":8.75},
{"x":4.7,"y":9.45},{"x":4.8,"y":9.27},{"x":4.9,"y":9.08},{"x":5,"y":8.9},{"x":5.1,"y":9.08},{"x":5.2,"y":9.27},{"x":5.3,"y":9.45},
{"x":4.7,"y":10.15},{"x":4.8,"y":9.97},{"x":4.9,"y":9.78},{"x":5,"y":9.6},{"x":5.1,"y":9.78},{"x":5.2,"y":9.97},{"x":5.3,"y":10.15},
{"x":4.7,"y":10.85},{"x":4.8,"y":10.67},{"x":4.9,"y":10.48},{"x":5,"y":10.3},{"x":5.1,"y":10.48},{"x":5.2,"y":10.67},{"x":5.3,"y":10.85},
{"x":4.7,"y":11.55},{"x":4.8,"y":11.37},{"x":4.9,"y":11.18},{"x":5,"y":11},{"x":5.1,"y":11.18},{"x":5.2,"y":11.37},{"x":5.3,"y":11.55},
{"x":5.7,"y":2.65},{"x":5.8,"y":2.47},{"x":5.9,"y":2.28},{"x":6,"y":2.1},{"x":6.1,"y":2.28},{"x":6.2,"y":2.47},{"x":6.3,"y":2.65},
{"x":5.7,"y":3.35},{"x":5.8,"y":3.17},{"x":5.9,"y":2.98},{"x":6,"y":2.8},{"x":6.1,"y":2.98},{"x":6.2,"y":3.17},{"x":6.3,"y":3.35},
{"x":5.7,"y":4.05},{"x":5.8,"y":3.87},{"x":5.9,"y":3.68},{"x":6,"y":3.5},{"x":6.1,"y":3.68},{"x":6.2,"y":3.87},{"x":6.3,"y":4.05},
{"x":5.7,"y":4.75},{"x":5.8,"y":4.57},{"x":5.9,"y":4.38},{"x":6,"y":4.2},{"x":6.1,"y":4.38},{"x":6.2,"y":4.57},{"x":6.3,"y":4.75},
{"x":5.7,"y":5.45},{"x":5.8,"y":5.27},{"x":5.9,"y":5.08},{"x":6,"y":4.9},{"x":6.1,"y":5.08},{"x":6.2,"y":5.27},{"x":6.3,"y":5.45},
{"x":5.7,"y":6.15},{"x":5.8,"y":5.97},{"x":5.9,"y":5.78},{"x":6,"y":5.6},{"x":6.1,"y":5.78},{"x":6.2,"y":5.97},{"x":6.3,"y":6.15},
{"x":6.7,"y":4.05},{"x":6.8,"y":3.87},{"x":6.9,"y":3.68},{"x":7,"y":3.5},{"x":7.1,"y":3.68},{"x":7.2,"y":3.87},{"x":7.3,"y":4.05},
{"x":6.7,"y":4.75},{"x":6.8,"y":4.57},{"x":6.9,"y":4.38},{"x":7,"y":4.2},{"x":7.1,"y":4.38},{"x":7.2,"y":4.57},{"x":7.3,"y":4.75},
{"x":6.7,"y":5.45},{"x":6.8,"y":5.27},{"x":6.9,"y":5.08},{"x":7,"y":4.9},{"x":7.1,"y":5.08},{"x":7.2,"y":5.27},{"x":7.3,"y":5.45},
{"x":6.7,"y":6.15},{"x":6.8,"y":5.97},{"x":6.9,"y":5.78},{"x":7,"y":5.6},{"x":7.1,"y":5.78},{"x":7.2,"y":5.97},{"x":7.3,"y":6.15},
{"x":6.7,"y":6.85},{"x":6.8,"y":6.67},{"x":6.9,"y":6.48},{"x":7,"y":6.3},{"x":7.1,"y":6.48},{"x":7.2,"y":6.67},{"x":7.3,"y":6.85},
{"x":6.7,"y":7.55},{"x":6.8,"y":7.37},{"x":6.9,"y":7.18},{"x":7,"y":7},{"x":7.1,"y":7.18},{"x":7.2,"y":7.37},{"x":7.3,"y":7.55},
{"x":6.7,"y":8.25},{"x":6.8,"y":8.07},{"x":6.9,"y":7.88},{"x":7,"y":7.7},{"x":7.1,"y":7.88},{"x":7.2,"y":8.07},{"x":7.3,"y":8.25},
{"x":6.7,"y":8.95},{"x":6.8,"y":8.77},{"x":6.9,"y":8.58},{"x":7,"y":8.4},{"x":7.1,"y":8.58},{"x":7.2,"y":8.77},{"x":7.3,"y":8.95},
{"x":7.7,"y":4.55},{"x":7.8,"y":4.37},{"x":7.9,"y":4.18},{"x":8,"y":4},{"x":8.1,"y":4.18},{"x":8.2,"y":4.37},{"x":8.3,"y":4.55},
{"x":7.7,"y":5.25},{"x":7.8,"y":5.07},{"x":7.9,"y":4.88},{"x":8,"y":4.7},{"x":8.1,"y":4.88},{"x":8.2,"y":5.07},{"x":8.3,"y":5.25},
{"x":7.7,"y":5.95},{"x":7.8,"y":5.77},{"x":7.9,"y":5.58},{"x":8,"y":5.4},{"x":8.1,"y":5.58},{"x":8.2,"y":5.77},{"x":8.3,"y":5.95},
{"x":7.7,"y":6.65},{"x":7.8,"y":6.47},{"x":7.9,"y":6.28},{"x":8,"y":6.1},{"x":8.1,"y":6.28},{"x":8.2,"y":6.47},{"x":8.3,"y":6.65},
{"x":7.7,"y":7.35},{"x":7.8,"y":7.17},{"x":7.9,"y":6.98},{"x":8,"y":6.8},{"x":8.1,"y":6.98},{"x":8.2,"y":7.17},{"x":8.3,"y":7.35},
{"x":7.7,"y":8.05},{"x":7.8,"y":7.87},{"x":7.9,"y":7.68},{"x":8,"y":7.5},{"x":8.1,"y":7.68},{"x":8.2,"y":7.87},{"x":8.3,"y":8.05},
{"x":7.7,"y":8.75},{"x":7.8,"y":8.57},{"x":7.9,"y":8.38},{"x":8,"y":8.2},{"x":8.1,"y":8.38},{"x":8.2,"y":8.57},{"x":8.3,"y":8.75},
{"x":7.7,"y":9.45},{"x":7.8,"y":9.27},{"x":7.9,"y":9.08},{"x":8,"y":8.9},{"x":8.1,"y":9.08},{"x":8.2,"y":9.27},{"x":8.3,"y":9.45},
{"x":7.7,"y":10.15},{"x":7.8,"y":9.97},{"x":7.9,"y":9.78},{"x":8,"y":9.6},{"x":8.1,"y":9.78},{"x":8.2,"y":9.97},{"x":8.3,"y":10.15},
{"x":7.7,"y":10.85},{"x":7.8,"y":10.67},{"x":7.9,"y":10.48},{"x":8,"y":10.3},{"x":8.1,"y":10.48},{"x":8.2,"y":10.67},{"x":8.3,"y":10.85},
{"x":7.7,"y":11.55},{"x":7.8,"y":11.37},{"x":7.9,"y":11.18},{"x":8,"y":11},{"x":8.1,"y":11.18},{"x":8.2,"y":11.37},{"x":8.3,"y":11.55}]
},
"hconcat":[
{"spacing":0,"bounds":"flush","vconcat":[
{"width":490,"height":440,"encoding":{"x":{"field":"x","type":"quantitative","scale":{"domain":[-0.9,4.776],"nice":false,"zero":false},"axis":{"values":[0,1,2,3,4],"offset":-107.3,"title":"Olaparib [µM]","titleX":252.3,"titleY":53.3,"labelPadding":3}},"y":{"field":"y","type":"quantitative","scale":{"domain":[-46.65,144.65],"nice":false,"zero":false},"axis":{"values":[0,50,100],"offset":-77.7,"title":"% Survival","titleX":-60.4,"titleY":214,"labelPadding":0,"tickSize":10}}},
"layer":[
{"data":{"name":"rA"},"mark":{"type":"rule","strokeWidth":3.3},"encoding":{"x2":{"field":"x2"},"y2":{"field":"y2"}}},
{"data":{"name":"sA"},"mark":{"type":"line","strokeWidth":3.2},"encoding":{"color":{"field":"s","type":"nominal","scale":{"domain":["R1","BR5","T2","ATRi","Control","BRCA1","DKO"],"range":["#000000","#ff1500","#0a3cff","#000000","#000000","#ff1500","#0a3cff"]},"legend":null}}},
{"data":{"name":"eA"},"mark":{"type":"rule","strokeWidth":2.6},"encoding":{"y2":{"field":"y2"},"color":{"field":"s","type":"nominal","legend":null}}},
{"data":{"name":"eA"},"transform":[{"fold":["y","y2"],"as":["k","y"]}],"mark":{"type":"tick","orient":"horizontal","size":12,"thickness":2.6},"encoding":{"color":{"field":"s","type":"nominal","legend":null}}},
{"data":{"name":"sA"},"mark":{"type":"point","filled":true,"opacity":1,"size":62},"encoding":{"color":{"field":"s","type":"nominal","legend":null},"shape":{"field":"s","type":"nominal","scale":{"domain":["R1","BR5","T2","ATRi","Control","BRCA1","DKO"],"range":["triangle-up","square","circle","circle","circle","square","triangle-up"]},"legend":null}}},
{"data":{"name":"lA"},"mark":{"type":"rule","strokeWidth":3},"encoding":{"x2":{"field":"x2"},"color":{"field":"s","type":"nominal","legend":null}}},
{"data":{"name":"lA"},"mark":{"type":"point","filled":true,"opacity":1,"size":62},"encoding":{"x":{"field":"m","type":"quantitative"},"color":{"field":"s","type":"nominal","legend":null},"shape":{"field":"s","type":"nominal","legend":null}}},
{"data":{"name":"tA"},"mark":{"type":"text","align":"left"},"encoding":{"text":{"field":"t"}}},
{"data":{"values":[{"x":-0.738,"y":120.7,"t":"A"}]},"mark":{"type":"text","fontSize":36,"fontWeight":"bold"},"encoding":{"text":{"field":"t"}}}
]},
{"width":490,"height":420,"encoding":{"x":{"field":"x","type":"quantitative","scale":{"domain":[-1.8386,9.381],"nice":false,"zero":false},"axis":{"values":[0,2,4,6,8],"offset":-148,"title":"Olaparib [µM]","titleX":251.7,"titleY":51.3,"labelPadding":3}},"y":{"field":"y","type":"quantitative","scale":{"domain":[-95.4,175.3],"nice":false,"zero":false},"axis":{"values":[0,50,100,150],"offset":-80.3,"title":"% Survival","titleX":-63,"titleY":161.3,"labelPadding":0,"tickSize":10}}},
"layer":[
{"data":{"name":"rC"},"mark":{"type":"rule","strokeWidth":3.3},"encoding":{"x2":{"field":"x2"},"y2":{"field":"y2"}}},
{"data":{"name":"sC"},"mark":{"type":"line","strokeWidth":3.2,"strokeCap":"round","color":"#000"},"encoding":{"strokeDash":{"field":"s","type":"nominal","scale":{"domain":["R1","ATRi"],"range":[[1,0],[0.5,6]]},"legend":null}}},
{"data":{"name":"eC"},"mark":{"type":"rule","strokeWidth":2.6},"encoding":{"y2":{"field":"y2"}}},
{"data":{"name":"eC"},"transform":[{"fold":["y","y2"],"as":["k","y"]}],"mark":{"type":"tick","orient":"horizontal","size":11,"thickness":2.6,"color":"#000"}},
{"data":{"name":"sC"},"mark":{"type":"point","filled":true,"opacity":1,"size":55,"color":"#000"},"encoding":{"shape":{"field":"s","type":"nominal","legend":null}}},
{"data":{"name":"lC"},"mark":{"type":"rule","strokeWidth":3.2,"strokeCap":"round"},"encoding":{"x2":{"field":"x2"},"strokeDash":{"field":"s","type":"nominal","legend":null}}},
{"data":{"name":"lC"},"mark":{"type":"point","filled":true,"opacity":1,"size":70,"color":"#000"},"encoding":{"x":{"field":"m","type":"quantitative"},"shape":{"field":"s","type":"nominal","legend":null}}},
{"data":{"name":"tC"},"mark":{"type":"text","align":"left"},"encoding":{"text":{"field":"t"}}},
{"data":{"values":[{"x":-1.518,"y":166.8,"t":"C"}]},"mark":{"type":"text","fontSize":36,"fontWeight":"bold"},"encoding":{"text":{"field":"t"}}}
]},
{"width":490,"height":432,"encoding":{"x":{"field":"x","type":"quantitative","scale":{"domain":[-106.3,597.7],"nice":false,"zero":false},"axis":{"values":[0,125,250,375,500],"offset":-101,"title":"Olaparib [nM]","titleX":247.3,"titleY":53,"labelPadding":3}},"y":{"field":"y","type":"quantitative","scale":{"domain":[-65.3,214],"nice":false,"zero":false},"axis":{"values":[0,50,100,150],"offset":-74,"title":"%Survival","titleX":-64.7,"titleY":213.8,"labelPadding":0,"tickSize":10}}},
"layer":[
{"data":{"name":"rE"},"mark":{"type":"rule","strokeWidth":3},"encoding":{"x2":{"field":"x2"},"y2":{"field":"y2"}}},
{"data":{"name":"sE"},"mark":{"type":"line","strokeWidth":3.2},"encoding":{"color":{"field":"s","type":"nominal","legend":null}}},
{"data":{"name":"eE"},"mark":{"type":"rule","strokeWidth":2.6},"encoding":{"y2":{"field":"y2"},"color":{"field":"s","type":"nominal","legend":null}}},
{"data":{"name":"eE"},"transform":[{"fold":["y","y2"],"as":["k","y"]}],"mark":{"type":"tick","orient":"horizontal","size":11,"thickness":2.6},"encoding":{"color":{"field":"s","type":"nominal","legend":null}}},
{"data":{"name":"sE"},"mark":{"type":"point","filled":true,"opacity":1,"size":62},"encoding":{"color":{"field":"s","type":"nominal","legend":null},"shape":{"field":"s","type":"nominal","legend":null}}},
{"data":{"name":"lE"},"mark":{"type":"rule","strokeWidth":3},"encoding":{"x2":{"field":"x2"},"color":{"field":"s","type":"nominal","legend":null}}},
{"data":{"name":"lE"},"mark":{"type":"point","filled":true,"opacity":1,"size":55},"encoding":{"x":{"field":"m","type":"quantitative"},"color":{"field":"s","type":"nominal","legend":null},"shape":{"field":"s","type":"nominal","legend":null}}},
{"data":{"name":"tE"},"mark":{"type":"text","align":"left"},"encoding":{"text":{"field":"t"}}},
{"data":{"values":[{"x":-87.2,"y":191.8,"t":"E"}]},"mark":{"type":"text","fontSize":36,"fontWeight":"bold"},"encoding":{"text":{"field":"t"}}}
]}
]},
{"spacing":0,"bounds":"flush","vconcat":[
{"width":490,"height":430,"encoding":{"x":{"field":"x","type":"quantitative","scale":{"domain":[-1.25,4.592],"nice":false,"zero":false},"axis":{"values":[1,2,3,4],"offset":-88.7,"title":null,"labels":false}},"y":{"field":"y","type":"quantitative","scale":{"domain":[-0.014625,0.05627],"nice":false,"zero":false},"axis":{"values":[0,0.01,0.02,0.03,0.04],"format":".2f","offset":-133.3,"title":"Mean ssDNA intensity (a.u.)","titleX":-85,"titleY":217.5,"labelPadding":0,"tickSize":10,"labelFontSize":17}}},
"layer":[
{"data":{"name":"swB"},"mark":{"type":"point","filled":true,"opacity":1,"size":20,"color":"#000","xOffset":-1.7}},
{"data":{"name":"swB"},"mark":{"type":"point","filled":true,"opacity":1,"size":20,"color":"#000","xOffset":1.7}},
{"data":{"name":"pB"},"mark":{"type":"point","filled":true,"opacity":1,"size":20,"color":"#000"}},
{"data":{"name":"aB"},"mark":{"type":"area","stroke":"#000","strokeWidth":3},"encoding":{"y2":{"field":"y2"},"fill":{"field":"a","type":"nominal","scale":{"domain":["red","gray","blue"],"range":["#ff0000","#b0aaaa","#0a6fc2"]},"legend":null}}},
{"data":{"name":"rB"},"mark":{"type":"rule"},"encoding":{"x2":{"field":"x2"},"y2":{"field":"y2"}}},
{"data":{"name":"eB"},"mark":{"type":"rule","strokeWidth":2.2,"color":"#ff2a12"},"encoding":{"y2":{"field":"y2"}}},
{"data":{"name":"eB"},"transform":[{"fold":["y","y2"],"as":["k","y"]}],"mark":{"type":"tick","orient":"horizontal","size":30,"thickness":2.2,"color":"#ff2a12"}},
{"data":{"name":"eB"},"transform":[{"fold":["m"],"as":["k","y"]}],"mark":{"type":"tick","orient":"horizontal","size":70,"thickness":3.4,"color":"#ff2a12"}},
{"data":{"name":"tB"},"mark":{"type":"text"},"encoding":{"text":{"field":"t"}}},
{"data":{"values":[{"x":1.472,"y":0.03868,"t":"* * * *"}]},"mark":{"type":"text","fontSize":18,"dy":5},"encoding":{"text":{"field":"t"}}},
{"data":{"values":[{"x":-1.095,"y":0.04721,"t":"B"}]},"mark":{"type":"text","fontSize":36,"fontWeight":"bold"},"encoding":{"text":{"field":"t"}}}
]},
{"width":490,"height":450,"encoding":{"x":{"field":"x","type":"quantitative","scale":{"domain":[-1.1737,4.5526],"nice":false,"zero":false},"axis":{"values":[1,2,3,4],"offset":-128.7,"title":null,"labels":false}},"y":{"field":"y","type":"quantitative","scale":{"domain":[-0.02082,0.05197],"nice":false,"zero":false},"axis":{"values":[0,0.01,0.02,0.03,0.04],"format":".2f","offset":-129.3,"title":"Mean ssDNA intensity (a.u.)","titleX":-80.3,"titleY":195.8,"labelPadding":0,"tickSize":10,"labelFontSize":17}}},
"layer":[
{"data":{"name":"swD"},"mark":{"type":"point","filled":true,"opacity":1,"size":20,"color":"#000","xOffset":-1.7}},
{"data":{"name":"swD"},"mark":{"type":"point","filled":true,"opacity":1,"size":20,"color":"#000","xOffset":1.7}},
{"data":{"name":"pD"},"mark":{"type":"point","filled":true,"opacity":1,"size":20,"color":"#000"}},
{"data":{"name":"rD"},"mark":{"type":"rule"},"encoding":{"x2":{"field":"x2"},"y2":{"field":"y2"}}},
{"data":{"name":"eD"},"mark":{"type":"rule","strokeWidth":2.2,"color":"#ff2a12"},"encoding":{"y2":{"field":"y2"}}},
{"data":{"name":"eD"},"transform":[{"fold":["y","y2"],"as":["k","y"]}],"mark":{"type":"tick","orient":"horizontal","size":30,"thickness":2.2,"color":"#ff2a12"}},
{"data":{"name":"eD"},"transform":[{"fold":["m"],"as":["k","y"]}],"mark":{"type":"tick","orient":"horizontal","size":70,"thickness":3.4,"color":"#ff2a12"}},
{"data":{"name":"tD"},"mark":{"type":"text"},"encoding":{"text":{"field":"t"}}},
{"data":{"values":[{"x":2.761,"y":0.04291,"t":"* * * *"},{"x":3.521,"y":0.03838,"t":"* * * *"}]},"mark":{"type":"text","fontSize":18,"dy":5},"encoding":{"text":{"field":"t"}}},
{"data":{"values":[{"x":-1.022,"y":0.04792,"t":"D"}]},"mark":{"type":"text","fontSize":36,"fontWeight":"bold"},"encoding":{"text":{"field":"t"}}}
]},
{"width":490,"height":412,"encoding":{"x":{"field":"x","type":"quantitative","scale":{"domain":[-1.143,4.555],"nice":false,"zero":false},"axis":{"values":[1,2,3,4],"offset":-107.3,"title":null,"labels":false}},"y":{"field":"y","type":"quantitative","scale":{"domain":[-0.01362,0.03867],"nice":false,"zero":false},"axis":{"values":[0,0.01,0.02,0.03],"format":".2f","offset":-128,"title":"Mean ssDNA intensity (a.u.)","titleX":-86.3,"titleY":188.3,"labelPadding":0,"tickSize":10,"labelFontSize":17}}},
"layer":[
{"data":{"name":"swF"},"mark":{"type":"point","filled":true,"opacity":1,"size":20,"color":"#000","xOffset":-1.7}},
{"data":{"name":"swF"},"mark":{"type":"point","filled":true,"opacity":1,"size":20,"color":"#000","xOffset":1.7}},
{"data":{"name":"pF"},"mark":{"type":"point","filled":true,"opacity":1,"size":20,"color":"#000"}},
{"data":{"name":"rF"},"mark":{"type":"rule"},"encoding":{"x2":{"field":"x2"},"y2":{"field":"y2"}}},
{"data":{"name":"eF"},"mark":{"type":"rule","strokeWidth":2.2,"color":"#ff2a12"},"encoding":{"y2":{"field":"y2"}}},
{"data":{"name":"eF"},"transform":[{"fold":["y","y2"],"as":["k","y"]}],"mark":{"type":"tick","orient":"horizontal","size":30,"thickness":2.2,"color":"#ff2a12"}},
{"data":{"name":"eF"},"transform":[{"fold":["m"],"as":["k","y"]}],"mark":{"type":"tick","orient":"horizontal","size":70,"thickness":3.4,"color":"#ff2a12"}},
{"data":{"name":"tF"},"mark":{"type":"text"},"encoding":{"text":{"field":"t"}}},
{"data":{"values":[{"x":1.505,"y":0.02852,"t":"* *"}]},"mark":{"type":"text","fontSize":18,"dy":5},"encoding":{"text":{"field":"t"}}},
{"data":{"values":[{"x":-0.992,"y":0.03689,"t":"F"}]},"mark":{"type":"text","fontSize":36,"fontWeight":"bold"},"encoding":{"text":{"field":"t"}}}
]}
]},
{"spacing":0,"bounds":"flush","vconcat":[
{"width":786,"height":760,"encoding":{"x":{"field":"x","type":"quantitative","scale":{"domain":[-1.3367,8.5166],"nice":false,"zero":false},"axis":{"values":[1,2,3,4,5,6,7,8],"offset":-193.3,"title":null,"labels":false,"tickSize":12}},"y":{"field":"y","type":"quantitative","scale":{"domain":[-15.81,46.34],"nice":false,"zero":false},"axis":{"values":[0,5,10,15,20,25],"offset":-147,"title":"Length of CldU tracts (µm)","titleX":-59.5,"titleY":412,"labelPadding":0,"tickSize":12}}},
"layer":[
{"data":{"name":"swG"},"mark":{"type":"point","filled":true,"opacity":1,"size":26,"color":"#000","xOffset":-2}},
{"data":{"name":"swG"},"mark":{"type":"point","filled":true,"opacity":1,"size":26,"color":"#000","xOffset":2}},
{"data":{"name":"pG"},"mark":{"type":"point","filled":true,"opacity":1,"size":26,"color":"#000"}},
{"data":{"name":"aG"},"mark":{"type":"area","stroke":"#000","strokeWidth":3},"encoding":{"y2":{"field":"y2"},"fill":{"field":"a","type":"nominal","legend":null}}},
{"data":{"name":"rG"},"mark":{"type":"rule"},"encoding":{"x2":{"field":"x2"},"y2":{"field":"y2"}}},
{"data":{"name":"eG"},"mark":{"type":"rule","strokeWidth":2.4,"color":"#ff2a12"},"encoding":{"y2":{"field":"y2"}}},
{"data":{"name":"eG"},"transform":[{"fold":["y","y2"],"as":["k","y"]}],"mark":{"type":"tick","orient":"horizontal","size":29,"thickness":2.4,"color":"#ff2a12"}},
{"data":{"name":"eG"},"transform":[{"fold":["m"],"as":["k","y"]}],"mark":{"type":"tick","orient":"horizontal","size":66,"thickness":4,"color":"#ff2a12"}},
{"data":{"name":"tG"},"mark":{"type":"text"},"encoding":{"text":{"field":"t"}}},
{"data":{"values":[{"x":2.951,"y":27.67,"t":"* *"},{"x":5.003,"y":25.16,"t":"* * * *"},{"x":5.567,"y":22.55,"t":"* * * *"}]},"mark":{"type":"text","fontSize":18,"dy":5},"encoding":{"text":{"field":"t"}}},
{"data":{"values":[{"x":-0.299,"y":36.8,"t":"G"}]},"mark":{"type":"text","fontSize":36,"fontWeight":"bold"},"encoding":{"text":{"field":"t"}}}
]},
{"width":786,"height":532,"encoding":{"x":{"field":"x","type":"quantitative","scale":{"domain":[-0.2876,1.2999],"nice":false,"zero":false},"axis":null},"y":{"field":"y","type":"quantitative","scale":{"domain":[-7.96,2.68],"nice":false,"zero":false},"axis":null}},
"layer":[
{"data":{"values":[{"x":0,"y":0,"x2":1,"y2":1}]},"mark":{"type":"rect","color":"#d0cece"},"encoding":{"x2":{"field":"x2"},"y2":{"field":"y2"}}},
{"data":{"values":[{"x":0,"y":1,"y2":0},{"x":1,"y":0,"y2":0}]},"mark":{"type":"area","color":"#ff0000"},"encoding":{"y2":{"field":"y2"}}},
{"data":{"values":[{"x":0,"y":1,"x2":1,"y2":0}]},"mark":{"type":"rule","color":"#2f5597","strokeWidth":3},"encoding":{"x2":{"field":"x2"},"y2":{"field":"y2"}}},
{"data":{"values":[{"x":0,"y":0,"x2":1,"y2":1}]},"mark":{"type":"rect","fill":null,"stroke":"#2f5597","strokeWidth":3},"encoding":{"x2":{"field":"x2"},"y2":{"field":"y2"}}},
{"data":{"values":[{"x":-0.0115,"y":-1.734,"x2":0.997,"y2":-1.734},{"x":-0.0115,"y":-2.954,"x2":0.997,"y2":-2.954}]},"mark":{"type":"rule"},"encoding":{"x2":{"field":"x2"},"y2":{"field":"y2"}}},
{"data":{"name":"tH"},"mark":{"type":"text"},"encoding":{"text":{"field":"t"}}},
{"data":{"values":[{"x":0.086,"y":0.346,"t":"Gaps"}]},"mark":{"type":"text","color":"#fff"},"encoding":{"text":{"field":"t"}}},
{"data":{"values":[{"x":-0.1222,"y":1.234,"t":"H"}]},"mark":{"type":"text","fontSize":36,"fontWeight":"bold"},"encoding":{"text":{"field":"t"}}}
]}
]}
]}
